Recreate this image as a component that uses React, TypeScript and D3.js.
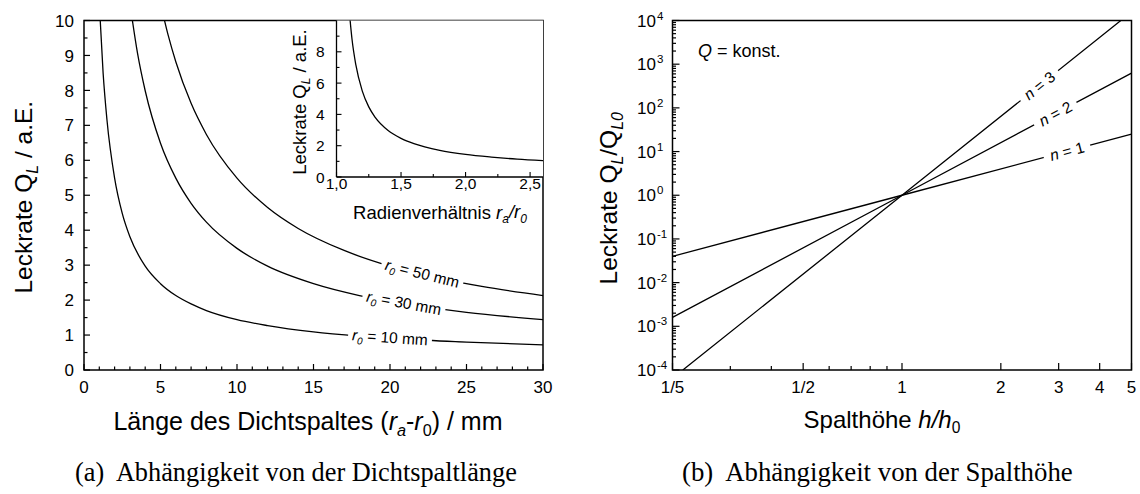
import React from 'react'
import * as d3 from 'd3'

// (a) leak rate over seal gap length (ra - r0), one curve per inner radius r0
const gapR10 = [1, 1.25, 1.5, 2, 2.5, 3, 4, 5, 6, 7, 8, 10, 12, 15, 18, 21, 25, 30]
const leakR10 = [10.49, 8.49, 7.16, 5.49, 4.48, 3.81, 2.97, 2.47, 2.13, 1.89, 1.70, 1.44, 1.27, 1.09, 0.97, 0.88, 0.80, 0.72]
const gapR30 = [3, 3.5, 4, 5, 6, 7, 8, 10, 12, 15, 18, 21, 25, 30]
const leakR30 = [10.49, 9.06, 7.99, 6.49, 5.49, 4.77, 4.23, 3.48, 2.97, 2.47, 2.13, 1.89, 1.65, 1.44]
const gapR50 = [5, 5.5, 6, 7, 8, 10, 12, 14, 17, 20, 23, 26, 30]
const leakR50 = [10.49, 9.58, 8.82, 7.63, 6.74, 5.49, 4.65, 4.05, 3.42, 2.97, 2.64, 2.39, 2.13]
const curveNames = ['10', '30', '50']
const curveLabelAt = [20.0, 20.9, 22.1]

// inset: leak rate over radius ratio ra/r0
const radiusRatio = [1.1, 1.12, 1.15, 1.2, 1.25, 1.3, 1.4, 1.5, 1.6, 1.8, 2.0, 2.2, 2.4, 2.6]
const leakRatio = [10.49, 8.82, 7.16, 5.49, 4.48, 3.81, 2.97, 2.47, 2.13, 1.70, 1.44, 1.27, 1.14, 1.05]

// (b) relative leak rate over relative gap height, Q = konst.
const heightN1 = [0.2, 1, 5]
const relLeakN1 = [0.04, 1, 25]
const heightN2 = [0.2, 1, 5]
const relLeakN2 = [0.0016, 1, 625]
const heightN3 = [0.215, 1, 4.64]
const relLeakN3 = [0.0001, 1, 10000]
const nNames = ['1', '2', '3']
const nLabelAt = [3.18, 2.93, 2.62]

const gapTicks = [0, 5, 10, 15, 20, 25, 30]
const leakTicks = [0, 1, 2, 3, 4, 5, 6, 7, 8, 9, 10]
const ratioTicks = [1.0, 1.5, 2.0, 2.5]
const ratioTickLabels = ['1,0', '1,5', '2,0', '2,5']
const insetLeakTicks = [0, 2, 4, 6, 8]
const heightTicks = [0.2, 0.5, 1, 2, 3, 4, 5]
const heightTickLabels = ['1/5', '1/2', '1', '2', '3', '4', '5']
const heightMinor = [0.3, 0.4, 0.6, 0.7, 0.8, 0.9]
const decadeExps = [-4, -3, -2, -1, 0, 1, 2, 3, 4]

const W = 1140
const H = 494
const SANS = "'Liberation Sans', Arial, Helvetica, sans-serif"
const SERIF = "'Liberation Serif', 'Times New Roman', serif"

// chart areas
const A = { l: 84, r: 543, t: 20.5, b: 370 }
const IN = { l: 336.5, r: 543, t: 20.5, b: 177 }
const B = { l: 672.5, r: 1131.5, t: 20.5, b: 370 }

const xA = d3.scaleLinear().domain([0, 30]).range([A.l, A.r])
const yA = d3.scaleLinear().domain([0, 10]).range([A.b, A.t])
const xIn = d3.scaleLinear().domain([1.0, 2.6]).range([IN.l, IN.r])
const yIn = d3.scaleLinear().domain([0, 10]).range([IN.b, IN.t])
const xB = d3.scaleLog().domain([0.2, 5]).range([B.l, B.r])
const yB = d3.scaleLog().domain([1e-4, 1e4]).range([B.b, B.t])

// position + angle of a label sitting on a polyline, in screen coords
function onLine(xs: number[], ys: number[], xv: number, sx: any, sy: any) {
  let i = 0
  while (i < xs.length - 2 && xs[i + 1] < xv) i++
  const x0 = sx(xs[i]), x1 = sx(xs[i + 1])
  const y0 = sy(ys[i]), y1 = sy(ys[i + 1])
  const px = sx(xv)
  const t = (px - x0) / (x1 - x0)
  return { x: px, y: y0 + t * (y1 - y0), a: (Math.atan2(y1 - y0, x1 - x0) * 180) / Math.PI }
}

const Sub = ({ children, italic = false, size = 0.65 }: any) => (
  <tspan fontSize={`${size}em`} dy="0.35em" fontStyle={italic ? 'italic' : 'normal'}>{children}</tspan>
)

export default function App() {
  const lineA = d3.line<[number, number]>()
    .x(d => xA(d[0]))
    .y(d => yA(d[1]))
    .curve(d3.curveMonotoneX)
  const lineIn = d3.line<[number, number]>()
    .x(d => xIn(d[0]))
    .y(d => yIn(d[1]))
    .curve(d3.curveMonotoneX)
  const lineB = d3.line<[number, number]>()
    .x(d => xB(d[0]))
    .y(d => yB(d[1]))

  const curvesA = [
    { xs: gapR10, ys: leakR10 },
    { xs: gapR30, ys: leakR30 },
    { xs: gapR50, ys: leakR50 },
  ]
  const linesB = [
    { xs: heightN1, ys: relLeakN1 },
    { xs: heightN2, ys: relLeakN2 },
    { xs: heightN3, ys: relLeakN3 },
  ]

  const minorA = d3.range(0, 30.01, 1).filter(v => v % 5 !== 0)
  const minorAy = d3.range(0.5, 10, 1)
  const minorB: number[] = []
  decadeExps.slice(0, -1).forEach(e => {
    for (let k = 2; k <= 9; k++) minorB.push(k * Math.pow(10, e))
  })

  return (
    <svg width={W} height={H} style={{ position: 'absolute', left: 0, top: 0, background: '#fff' }}
      fontFamily={SANS} fill="#000">
      <defs>
        <clipPath id="clipA"><rect x={A.l} y={A.t} width={A.r - A.l} height={A.b - A.t} /></clipPath>
        <clipPath id="clipIn"><rect x={IN.l} y={IN.t} width={IN.r - IN.l} height={IN.b - IN.t} /></clipPath>
        <clipPath id="clipB"><rect x={B.l} y={B.t} width={B.r - B.l} height={B.b - B.t} /></clipPath>
      </defs>
      <rect width={W} height={H} fill="#fff" />

      {/* ---------- (a) ---------- */}
      <g clipPath="url(#clipA)" fill="none" stroke="#000" strokeWidth={1.3}>
        {curvesA.map((c, i) => (
          <path key={i} d={lineA(c.xs.map((x, j) => [x, c.ys[j]] as [number, number])) || ''} />
        ))}
      </g>
      {curvesA.map((c, i) => {
        const p = onLine(c.xs, c.ys, curveLabelAt[i], xA, yA)
        return (
          <g key={i} transform={`translate(${p.x},${p.y}) rotate(${p.a})`}>
            <rect x={-42} y={-5} width={84} height={10} fill="#fff" />
            <text textAnchor="middle" dy="0.3em" fontSize={15.5}>
              <tspan fontStyle="italic">r</tspan>
              <tspan fontSize="0.65em" dy="0.35em" fontStyle="italic">0</tspan>
              <tspan dy="-0.23em">{` = ${curveNames[i]} mm`}</tspan>
            </text>
          </g>
        )
      })}

      {/* frame a */}
      <rect x={A.l} y={A.t} width={A.r - A.l} height={A.b - A.t} fill="none" stroke="#000" strokeWidth={1.5} />
      <g stroke="#000" strokeWidth={1.2}>
        {gapTicks.map(v => <line key={'gx' + v} x1={xA(v)} x2={xA(v)} y1={A.b} y2={A.b - 6} />)}
        {minorA.map(v => <line key={'gm' + v} x1={xA(v)} x2={xA(v)} y1={A.b} y2={A.b - 3.5} />)}
        {leakTicks.map(v => <line key={'ly' + v} x1={A.l} x2={A.l + 6} y1={yA(v)} y2={yA(v)} />)}
        {minorAy.map(v => <line key={'lm' + v} x1={A.l} x2={A.l + 3.5} y1={yA(v)} y2={yA(v)} />)}
      </g>
      <g fontSize={17}>
        {gapTicks.map(v => <text key={v} x={xA(v)} y={393} textAnchor="middle">{v}</text>)}
        {leakTicks.map(v => <text key={v} x={A.l - 10} y={yA(v)} dy="0.36em" textAnchor="end">{v}</text>)}
      </g>
      <text x={308} y={430} fontSize={25} textAnchor="middle">
        Länge des Dichtspaltes (<tspan fontStyle="italic">r</tspan>
        <Sub italic>a</Sub><tspan dy="-0.23em">-</tspan><tspan fontStyle="italic">r</tspan>
        <Sub>0</Sub><tspan dy="-0.23em">) / mm</tspan>
      </text>
      <text transform={`translate(32,${(A.t + A.b) / 2 + 2}) rotate(-90)`} fontSize={24.5} textAnchor="middle">
        Leckrate Q<Sub italic>L</Sub><tspan dy="-0.23em"> / a.E.</tspan>
      </text>

      {/* inset */}
      <rect x={IN.l} y={IN.t} width={IN.r - IN.l} height={IN.b - IN.t} fill="#fff" stroke="none" />
      <g clipPath="url(#clipIn)" fill="none" stroke="#000" strokeWidth={1.3}>
        <path d={lineIn(radiusRatio.map((x, j) => [x, leakRatio[j]] as [number, number])) || ''} />
      </g>
      <g stroke="#000" strokeWidth={1.3}>
        <line x1={IN.l} x2={IN.l} y1={IN.t} y2={IN.b} />
        <line x1={IN.l} x2={IN.r} y1={IN.b} y2={IN.b} />
      </g>
      <g stroke="#000" strokeWidth={1.1}>
        {ratioTicks.map(v => <line key={'rx' + v} x1={xIn(v)} x2={xIn(v)} y1={IN.b} y2={IN.b - 5} />)}
        {[1.25, 1.75, 2.25].map(v => <line key={'rm' + v} x1={xIn(v)} x2={xIn(v)} y1={IN.b} y2={IN.b - 3} />)}
        {insetLeakTicks.map(v => <line key={'iy' + v} x1={IN.l} x2={IN.l + 5} y1={yIn(v)} y2={yIn(v)} />)}
        {[1, 3, 5, 7, 9].map(v => <line key={'im' + v} x1={IN.l} x2={IN.l + 3} y1={yIn(v)} y2={yIn(v)} />)}
      </g>
      <g fontSize={15.5}>
        {ratioTicks.map((v, i) => <text key={v} x={xIn(v)} y={188.5} textAnchor="middle">{ratioTickLabels[i]}</text>)}
        {insetLeakTicks.map(v => <text key={v} x={IN.l - 12} y={yIn(v)} dy="0.36em" textAnchor="end">{v}</text>)}
      </g>
      <text x={440} y={218.5} fontSize={18.5} textAnchor="middle">
        Radienverhältnis <tspan fontStyle="italic">r</tspan><Sub italic>a</Sub>
        <tspan dy="-0.23em" fontStyle="italic">/r</tspan><Sub italic>0</Sub>
      </text>
      <text transform={`translate(306,102) rotate(-90)`} fontSize={18.5} textAnchor="middle">
        Leckrate Q<Sub italic>L</Sub><tspan dy="-0.23em"> / a.E.</tspan>
      </text>

      {/* ---------- (b) ---------- */}
      <g clipPath="url(#clipB)" fill="none" stroke="#000" strokeWidth={1.3}>
        {linesB.map((c, i) => (
          <path key={i} d={lineB(c.xs.map((x, j) => [x, c.ys[j]] as [number, number])) || ''} />
        ))}
      </g>
      {linesB.map((c, i) => {
        const p = onLine(c.xs, c.ys, nLabelAt[i], xB, yB)
        return (
          <g key={i} transform={`translate(${p.x},${p.y}) rotate(${p.a})`}>
            <rect x={-24} y={-5} width={48} height={10} fill="#fff" />
            <text textAnchor="middle" dy="0.35em" fontSize={15.5}>
              <tspan fontStyle="italic">n</tspan>{` = ${nNames[i]}`}
            </text>
          </g>
        )
      })}
      <rect x={B.l} y={B.t} width={B.r - B.l} height={B.b - B.t} fill="none" stroke="#000" strokeWidth={1.5} />
      <g stroke="#000" strokeWidth={1.2}>
        {heightTicks.map(v => <line key={'hx' + v} x1={xB(v)} x2={xB(v)} y1={B.b} y2={B.b - 7} />)}
        {heightMinor.map(v => <line key={'hm' + v} x1={xB(v)} x2={xB(v)} y1={B.b} y2={B.b - 4} />)}
        {decadeExps.map(e => <line key={'dy' + e} x1={B.l} x2={B.l + 7} y1={yB(Math.pow(10, e))} y2={yB(Math.pow(10, e))} />)}
        {minorB.map((v, k) => <line key={'dm' + k} x1={B.l} x2={B.l + 3.5} y1={yB(v)} y2={yB(v)} />)}
      </g>
      <g fontSize={17}>
        {heightTicks.map((v, i) => <text key={v} x={xB(v)} y={393} textAnchor="middle">{heightTickLabels[i]}</text>)}
        {decadeExps.map(e => (
          <g key={e}>
            <text x={656} y={yB(Math.pow(10, e))} dy={6} textAnchor="end">10</text>
            <text x={657} y={yB(Math.pow(10, e))} dy={-1} fontSize={11.5}>{e < 0 ? `-${-e}` : e}</text>
          </g>
        ))}
      </g>
      <text x={698} y={56.5} fontSize={18}>
        <tspan fontStyle="italic">Q</tspan> = konst.
      </text>
      <text x={882} y={428} fontSize={24} textAnchor="middle">
        Spalthöhe <tspan fontStyle="italic">h/h</tspan><Sub>0</Sub>
      </text>
      <text transform={`translate(617,${(B.t + B.b) / 2 + 3}) rotate(-90)`} fontSize={24.5} textAnchor="middle">
        Leckrate Q<Sub italic>L</Sub><tspan dy="-0.23em">/Q</tspan><Sub italic>L0</Sub>
      </text>

      {/* captions */}
      <text x={75} y={481} fontFamily={SERIF} fontSize={26.3} style={{ whiteSpace: 'pre' }}>
        {'(a)  Abhängigkeit von der Dichtspaltlänge'}
      </text>
      <text x={682} y={481} fontFamily={SERIF} fontSize={26.8} style={{ whiteSpace: 'pre' }}>
        {'(b)  Abhängigkeit von der Spalthöhe'}
      </text>
    </svg>
  )
}
